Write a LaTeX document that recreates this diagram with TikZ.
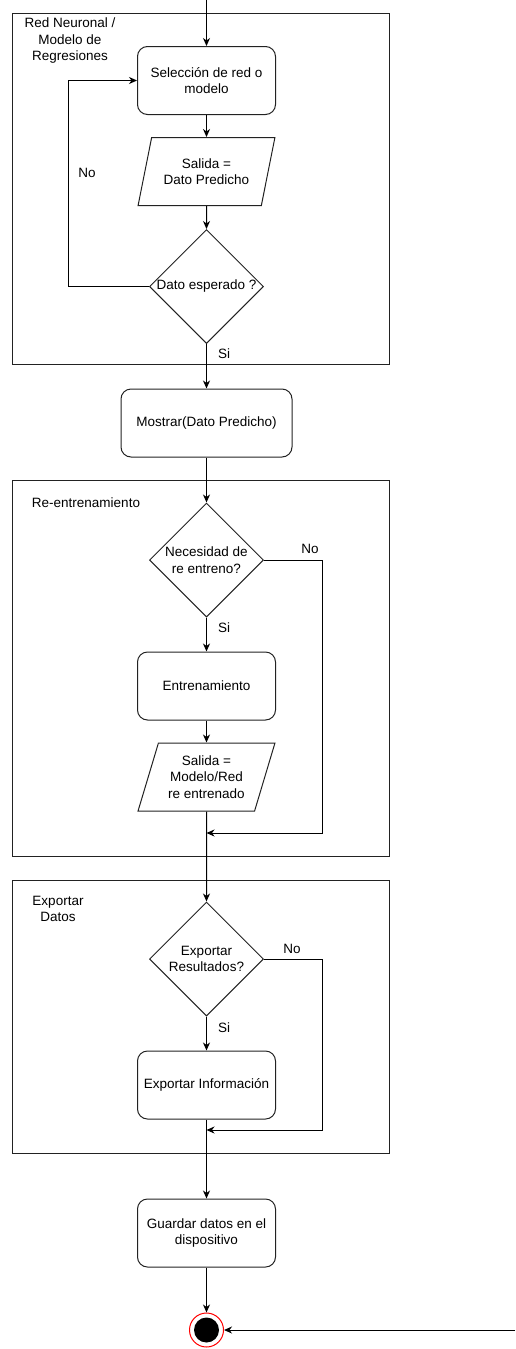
\documentclass[tikz,border=0pt]{standalone}
\usepackage{fontspec}
\setmainfont{Liberation Sans}
\usepackage{tikz}
\usetikzlibrary{arrows.meta}
\usetikzlibrary{shapes.geometric}
\tikzset{>={Stealth[length=8pt, width=7pt, inset=2.5pt]}}
\definecolor{stroke}{HTML}{222222}
\newcommand{\flowfont}{\fontsize{13.5}{16.5}\selectfont}

\begin{document}
\begin{tikzpicture}[x=1pt, y=-1pt]
            \tikzset{process/.style={draw=stroke, line width=1pt, rounded corners=10pt, minimum width=138pt, minimum height=68pt, align=center, font=\flowfont}};
            \tikzset{io/.style={draw=stroke, line width=1pt, trapezium, trapezium left angle=70, trapezium right angle=110, trapezium stretches=true, minimum width=137pt, minimum height=68pt, inner sep=2pt, align=center, font=\flowfont}};
            \tikzset{decision/.style={draw=stroke, line width=1pt, diamond, minimum width=114pt, minimum height=114pt, inner sep=0pt}};
            \tikzset{group/.style={draw=stroke, line width=1pt}};
            \tikzset{lbl/.style={inner sep=0pt, align=center, font=\flowfont}};
            \tikzset{final/.style={circle, draw=red, fill=white, line width=1pt, minimum size=34pt, inner sep=0pt, path picture={\fill[black] (path picture bounding box.center) circle (12.5pt);}}};
            \tikzset{arrow/.style={->, stroke, line width=1pt}};
            \useasboundingbox (0, 0) rectangle (515, 1349);
            % Containers
            \draw[group] (12, 13) rectangle (389, 364);
            \draw[group] (12, 480) rectangle (389, 856);
            \draw[group] (12, 880) rectangle (389, 1153);
            \node[lbl] (tituloRed) at (70, 41) {Red Neuronal /\\Modelo de\\Regresiones};
            \node[lbl] (tituloReent) at (86, 503) {Re-entrenamiento};
            \node[lbl] (tituloExport) at (58, 909) {Exportar\\Datos};
            % Red neuronal / modelo
            \coordinate (inicio) at (206.5, 0);
            \node[process] (seleccion) at (206.5, 80.5) {Selecci\'on de red o\\modelo};
            \node[io] (salida) at (206.5, 171.5) {Salida =\\Dato Predicho};
            \node[decision, label={[lbl]center:Dato esperado ?}] (esperado) at (206.5, 286.5) {};
            \node[lbl] (no1) at (87, 173) {No};
            \node[lbl] (si1) at (224, 354) {Si};
            % Mostrar
            \node[process, minimum width=171pt] (mostrar) at (206.5, 423) {Mostrar(Dato Predicho)};
            % Re-entrenamiento
            \node[decision, label={[lbl]center:Necesidad de\\re entreno?}] (necesidad) at (206.5, 560) {};
            \node[lbl] (no2) at (310, 549) {No};
            \node[lbl] (si2) at (224, 628) {Si};
            \node[process] (entrenamiento) at (206.5, 686) {Entrenamiento};
            \node[io] (salidaRed) at (206.5, 777) {Salida =\\Modelo/Red\\re entrenado};
            \coordinate (m2) at (206.5, 833);
            % Exportar datos
            \node[decision, label={[lbl]center:Exportar\\Resultados?}] (exportar) at (206.5, 959) {};
            \node[lbl] (no3) at (292, 949) {No};
            \node[lbl] (si3) at (224, 1028) {Si};
            \node[process] (informacion) at (206.5, 1085) {Exportar Informaci\'on};
            \coordinate (m3) at (206.5, 1130);
            % Final
            \node[process] (guardar) at (206.5, 1233) {Guardar datos en el\\dispositivo};
            \node[final] (fin) at (206.5, 1330) {};
            \coordinate (externo) at (515, 1330);
            % Connectors
            \draw[arrow] (inicio) -- (seleccion);
            \draw[arrow] (seleccion) -- (salida);
            \draw[arrow] (salida) -- (esperado);
            \draw[arrow] (esperado.west) -| ([xshift=-69pt]seleccion.west) -- (seleccion.west);
            \draw[arrow] (esperado.south) -- (mostrar.north);
            \draw[arrow] (mostrar) -- (necesidad.north);
            \draw[arrow] (necesidad.south) -- (entrenamiento.north);
            \draw[arrow] (entrenamiento) -- (salidaRed);
            \draw[arrow] (necesidad.east) -- ++(58, 0) |- (m2);
            \draw[arrow] (salidaRed.south) -- (exportar.north);
            \draw[arrow] (exportar.south) -- (informacion.north);
            \draw[arrow] (exportar.east) -- ++(58, 0) |- (m3);
            \draw[arrow] (informacion.south) -- (guardar.north);
            \draw[arrow] (guardar.south) -- (fin.north);
            \draw[arrow] (externo) -- (fin.east);
\end{tikzpicture}
\end{document}
